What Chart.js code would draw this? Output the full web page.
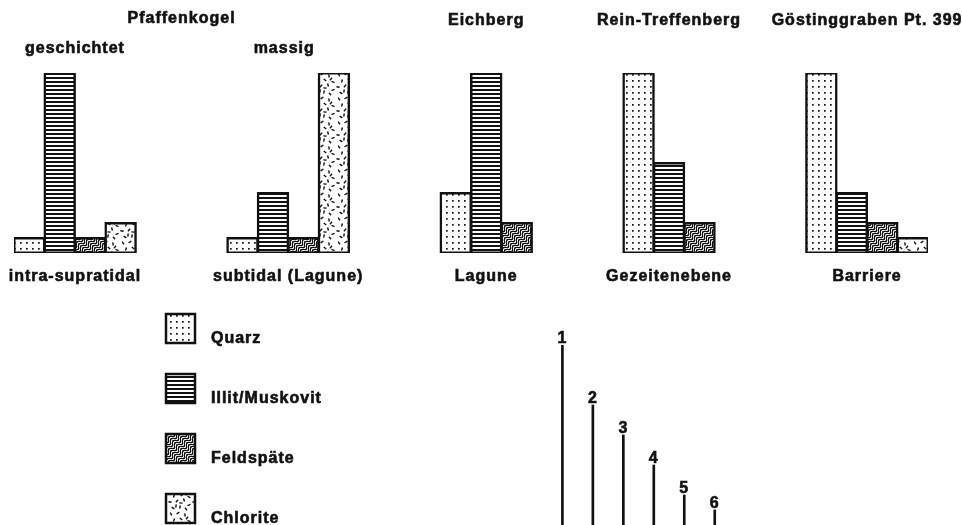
<!DOCTYPE html>
<html>
<head>
<meta charset="utf-8">
<script src="https://cdn.jsdelivr.net/npm/chart.js@4.4.1/dist/chart.umd.min.js"></script>
<style>
  html, body { margin: 0; padding: 0; background: #fff; }
  #top { position: absolute; left: 0; top: 0; width: 962px; height: 295px; }
  #bottom { position: absolute; left: 0; top: 295px; width: 962px; height: 230px; }
</style>
</head>
<body>
<div id="top"><canvas id="barChart"></canvas></div>
<div id="bottom"><canvas id="rankChart"></canvas></div>
<script>
// sample sites, read left to right
const sites = ['Pfaffenkogel', 'Pfaffenkogel', 'Eichberg', 'Rein-Treffenberg', 'Göstinggraben Pt. 399'];
const facies = ['geschichtet', 'massig', '', '', ''];
const environments = ['intra-supratidal', 'subtidal (Lagune)', 'Lagune', 'Gezeitenebene', 'Barriere'];

// relative intensities (rank 1 = 12 ... rank 6 = 1)
const minerals = ['Quarz', 'Illit/Muskovit', 'Feldspäte', 'Chlorite'];
const quarz = [1, 1, 4, 12, 12];
const illit = [12, 4, 12, 6, 4];
const feldspaete = [1, 1, 2, 2, 2];
const chlorite = [2, 12, null, null, 1];

// scale key at the bottom
const rankLabels = ['1', '2', '3', '4', '5', '6'];
const rankValues = [12, 8, 6, 4, 2, 1];

const FONT = 'bold 16px "Liberation Sans", Arial, sans-serif';
const INK = '#111';

// ---- hatch patterns ----
function makeTile(w, h, draw) {
  const c = document.createElement('canvas');
  c.width = w; c.height = h;
  const g = c.getContext('2d');
  g.fillStyle = '#fff';
  g.fillRect(0, 0, w, h);
  g.fillStyle = INK;
  g.strokeStyle = INK;
  draw(g, w, h);
  return g.createPattern(c, 'repeat');
}

const dotPattern = makeTile(6, 6, g => g.fillRect(2, 2, 1.7, 1.7));
const linePattern = makeTile(4, 4, g => g.fillRect(0, 1, 4, 2));
const wavePattern = makeTile(12, 12, (g, w, h) => {
  const img = g.createImageData(w, h);
  for (let y = 0; y < h; y++) {
    for (let x = 0; x < w; x++) {
      let cover = 0;
      for (let sy = 0; sy < 3; sy++) for (let sx = 0; sx < 3; sx++) {
        const px = x + (sx + 0.5) / 3, py = y + (sy + 0.5) / 3;
        const f = px + py + 2.2 * Math.sin(2 * Math.PI * (px - py) / 12);
        const fr = ((f / 4) % 1 + 1) % 1;
        if (fr < 0.58) cover++;
      }
      const v = 255 - Math.round(cover / 9 * 238);
      const i = (y * w + x) * 4;
      img.data[i] = img.data[i + 1] = img.data[i + 2] = v;
      img.data[i + 3] = 255;
    }
  }
  g.putImageData(img, 0, 0);
});
const dashPattern = makeTile(24, 24, g => {
  const dashes = [[3,3,60],[10,2,-30],[17,4,80],[21,10,20],[6,9,-70],[13,8,40],[2,15,10],[9,14,-45],
                  [16,13,70],[21,18,-20],[5,21,35],[12,20,-80],[18,22,50],[13,16,5],[8,19,100],[19,7,-50]];
  g.lineWidth = 1.4;
  g.lineCap = 'butt';
  dashes.forEach(([x, y, a]) => {
    const r = a * Math.PI / 180, dx = Math.cos(r) * 1.6, dy = Math.sin(r) * 1.6;
    g.beginPath(); g.moveTo(x - dx, y - dy); g.lineTo(x + dx, y + dy); g.stroke();
  });
});
const patterns = [dotPattern, linePattern, wavePattern, dashPattern];

// ---- spread the bars over slots: one slot per bar, 3 empty slots between sites ----
const GAP = 3;
const series = [quarz, illit, feldspaete, chlorite];
const slotLabels = [];
const seriesData = series.map(() => []);
const groups = [];
sites.forEach((site, i) => {
  const n = series.filter(s => s[i] != null).length;
  const start = slotLabels.length;
  series.forEach((s, k) => {
    if (s[i] == null) return;
    slotLabels.push(site + ' ' + minerals[k]);
    series.forEach((s2, k2) => seriesData[k2].push(k2 === k ? s[i] : null));
  });
  groups.push({ start: start, end: start + n - 1 });
  if (i < sites.length - 1) {
    for (let g = 0; g < GAP; g++) {
      slotLabels.push('gap ' + i + '.' + g);
      seriesData.forEach(d => d.push(null));
    }
  }
});

function setFont(ctx) {
  ctx.font = FONT;
  ctx.fillStyle = INK;
  ctx.strokeStyle = INK;
  ctx.lineWidth = 0.6;
  ctx.textAlign = 'center';
  ctx.textBaseline = 'alphabetic';
  if ('letterSpacing' in ctx) ctx.letterSpacing = '1px';
}
function heavyText(ctx, s, x, y) {
  ctx.fillText(s, x, y);
  ctx.strokeText(s, x, y);
}

const groupText = {
  id: 'groupText',
  afterDraw(chart) {
    const ctx = chart.ctx, x = chart.scales.x;
    const half = (x.getPixelForValue(1) - x.getPixelForValue(0)) / 2;
    const span = g => [x.getPixelForValue(g.start) - half, x.getPixelForValue(g.end) + half];
    ctx.save();
    setFont(ctx);
    let i = 0;
    while (i < sites.length) {
      let j = i;
      while (j + 1 < sites.length && sites[j + 1] === sites[i]) j++;
      const l = span(groups[i])[0], r = span(groups[j])[1];
      heavyText(ctx, sites[i], (l + r) / 2, j > i ? 23 : 25);
      i = j + 1;
    }
    groups.forEach((g, k) => {
      const [l, r] = span(g);
      if (facies[k]) heavyText(ctx, facies[k], (l + r) / 2 - (k === 1 ? 4 : 0), 53);
      heavyText(ctx, environments[k], (l + r) / 2, 281);
    });
    ctx.restore();
  }
};

new Chart(document.getElementById('barChart'), {
  type: 'bar',
  data: {
    labels: slotLabels,
    datasets: minerals.map((name, k) => ({
      label: name,
      data: seriesData[k],
      backgroundColor: patterns[k],
      borderColor: INK,
      borderWidth: 2.5,
      borderSkipped: false,
      inflateAmount: 1,
      grouped: false,
      categoryPercentage: 1,
      barPercentage: 1
    }))
  },
  options: {
    responsive: true,
    maintainAspectRatio: false,
    animation: false,
    layout: { padding: { left: 14, right: 34, top: 73, bottom: 42 } },
    scales: {
      x: { display: false },
      y: { display: false, min: 0, max: 12 }
    },
    plugins: { legend: { display: false }, tooltip: { enabled: false } }
  },
  plugins: [groupText]
});

// ---- bottom: mineral key and rank scale ----
const keyAndRanks = {
  id: 'keyAndRanks',
  afterDraw(chart) {
    const ctx = chart.ctx;
    ctx.save();
    minerals.forEach((name, k) => {
      const top = 18 + k * 60;
      ctx.fillStyle = patterns[k];
      ctx.fillRect(165, top, 31, 31);
      ctx.strokeStyle = INK;
      ctx.lineWidth = 2.5;
      ctx.strokeRect(166, top + 1, 29, 29);
      setFont(ctx);
      ctx.textAlign = 'left';
      heavyText(ctx, name, 211, top + 30);
    });
    setFont(ctx);
    chart.getDatasetMeta(0).data.forEach((el, i) => {
      heavyText(ctx, rankLabels[i], el.x, el.y - 2);
    });
    ctx.restore();
  }
};

new Chart(document.getElementById('rankChart'), {
  type: 'bar',
  data: {
    datasets: [{
      label: 'Rang',
      data: rankLabels.map((r, i) => ({ x: Number(r), y: rankValues[i] })),
      backgroundColor: INK,
      borderWidth: 0,
      barThickness: 2
    }]
  },
  options: {
    responsive: true,
    maintainAspectRatio: false,
    animation: false,
    layout: { padding: { left: 14, right: 34, top: 50, bottom: 0 } },
    scales: {
      x: { type: 'linear', display: false, offset: false, min: -17, max: 13 },
      y: { display: false, min: 0, max: 12 }
    },
    plugins: { legend: { display: false }, tooltip: { enabled: false } }
  },
  plugins: [keyAndRanks]
});
</script>
</body>
</html>
